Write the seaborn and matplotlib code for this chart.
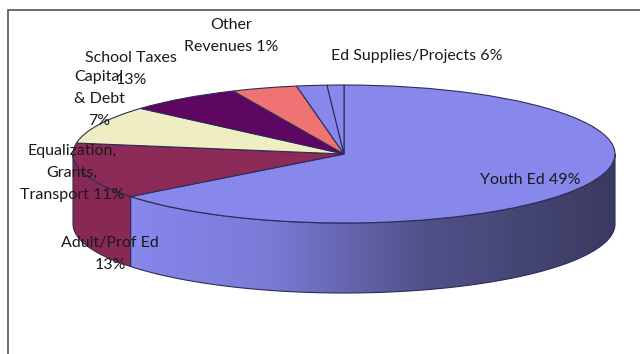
import numpy as np
import matplotlib
matplotlib.use("Agg")
import matplotlib.pyplot as plt
from matplotlib.patches import Polygon, Rectangle
from matplotlib.colors import LinearSegmentedColormap
import seaborn as sns

# ---- data (slice shares as drawn, labels as printed) ----
categories = ["Youth Ed", "Adult/Prof Ed", "Equalization, Grants, Transport",
              "Capital & Debt", "School Taxes", "Other Revenues", "Ed Supplies/Projects"]
shares = [64.4, 13.1, 8.95, 6.8, 3.9, 1.8, 1.0]
label_texts = ["Youth Ed 49%", "Adult/Prof Ed\n13%", "Equalization,\nGrants,\nTransport 11%",
               "Capital\n& Debt\n7%", "School Taxes\n13%", "Other\nRevenues 1%",
               "Ed Supplies/Projects 6%"]
slice_colors = ["#8888ec", "#8c2a58", "#efeec2", "#5e0762", "#ef7373", "#8888ec", "#8888ec"]

# ---- layout (pixels) ----
W, H = 640, 354
CX, CY, RX, RY, DEPTH = 344, 154, 271, 69, 70
label_pos = [(530, 180), (110, 254), (72, 173), (99, 99), (131, 69), (231, 36), (417, 56)]

sns.set_theme(style="white")
plt.rcParams["font.family"] = ["Lato", "DejaVu Sans"]

fig = plt.figure(figsize=(W / 100, H / 100), dpi=100)
ax = fig.add_axes([0, 0, 1, 1])
pal = sns.color_palette(slice_colors)
edge = "#2c2c58"
wedges, _ = ax.pie(shares, colors=pal, startangle=90, counterclock=False,
                   radius=1, center=(0, 0),
                   wedgeprops=dict(edgecolor=edge, linewidth=0.8, zorder=3))

ax.set_aspect("auto")
ax.axis("off")

D = DEPTH / RY
grad = LinearSegmentedColormap.from_list(
    "wall", [(0.0, "#8888ee"), (0.3, "#7a7ad6"), (0.6, "#52528c"), (1.0, "#3a3a60")])

for w, col in zip(wedges, pal):
    t1, t2 = w.theta1, w.theta2
    for k in (-360, 0, 360):
        lo, hi = max(t1, 180 + k), min(t2, 360 + k)
        if lo >= hi:
            continue
        t = np.radians(np.linspace(lo, hi, 120))
        top = np.column_stack([np.cos(t), np.sin(t)])
        bot = np.column_stack([np.cos(t[::-1]), np.sin(t[::-1]) - D])
        verts = np.vstack([top, bot])
        if col == pal[0]:
            poly = Polygon(verts, closed=True, facecolor="none", edgecolor=edge,
                           linewidth=0.8, zorder=2)
            ax.add_patch(poly)
            xs = np.linspace(-1, 1, 400)[None, :]
            im = ax.imshow(xs, cmap=grad, extent=(-0.82, 1.0, -1 - D, 0),
                           aspect="auto", zorder=1.5, interpolation="bilinear")
            im.set_clip_path(poly)
        else:
            c = tuple(v * 0.97 for v in col)
            poly = Polygon(verts, closed=True, facecolor=c, edgecolor=edge,
                           linewidth=0.8, zorder=2)
            ax.add_patch(poly)

ax.set_xlim(-CX / RX, (W - CX) / RX)
ax.set_ylim(-(H - CY) / RY, CY / RY)

for txt, (px, py) in zip(label_texts, label_pos):
    fig.text(px / W, 1 - py / H, txt, ha="center", va="center", fontsize=11.5,
             color="#1a1a1a", linespacing=1.72, multialignment="center")

fig.patches.append(Rectangle((7.5 / W, -0.1), 2, 1 - 10 / H + 0.1, transform=fig.transFigure,
                             fill=False, edgecolor="#606060", linewidth=1.3))

fig.savefig("out.png", dpi=100)
